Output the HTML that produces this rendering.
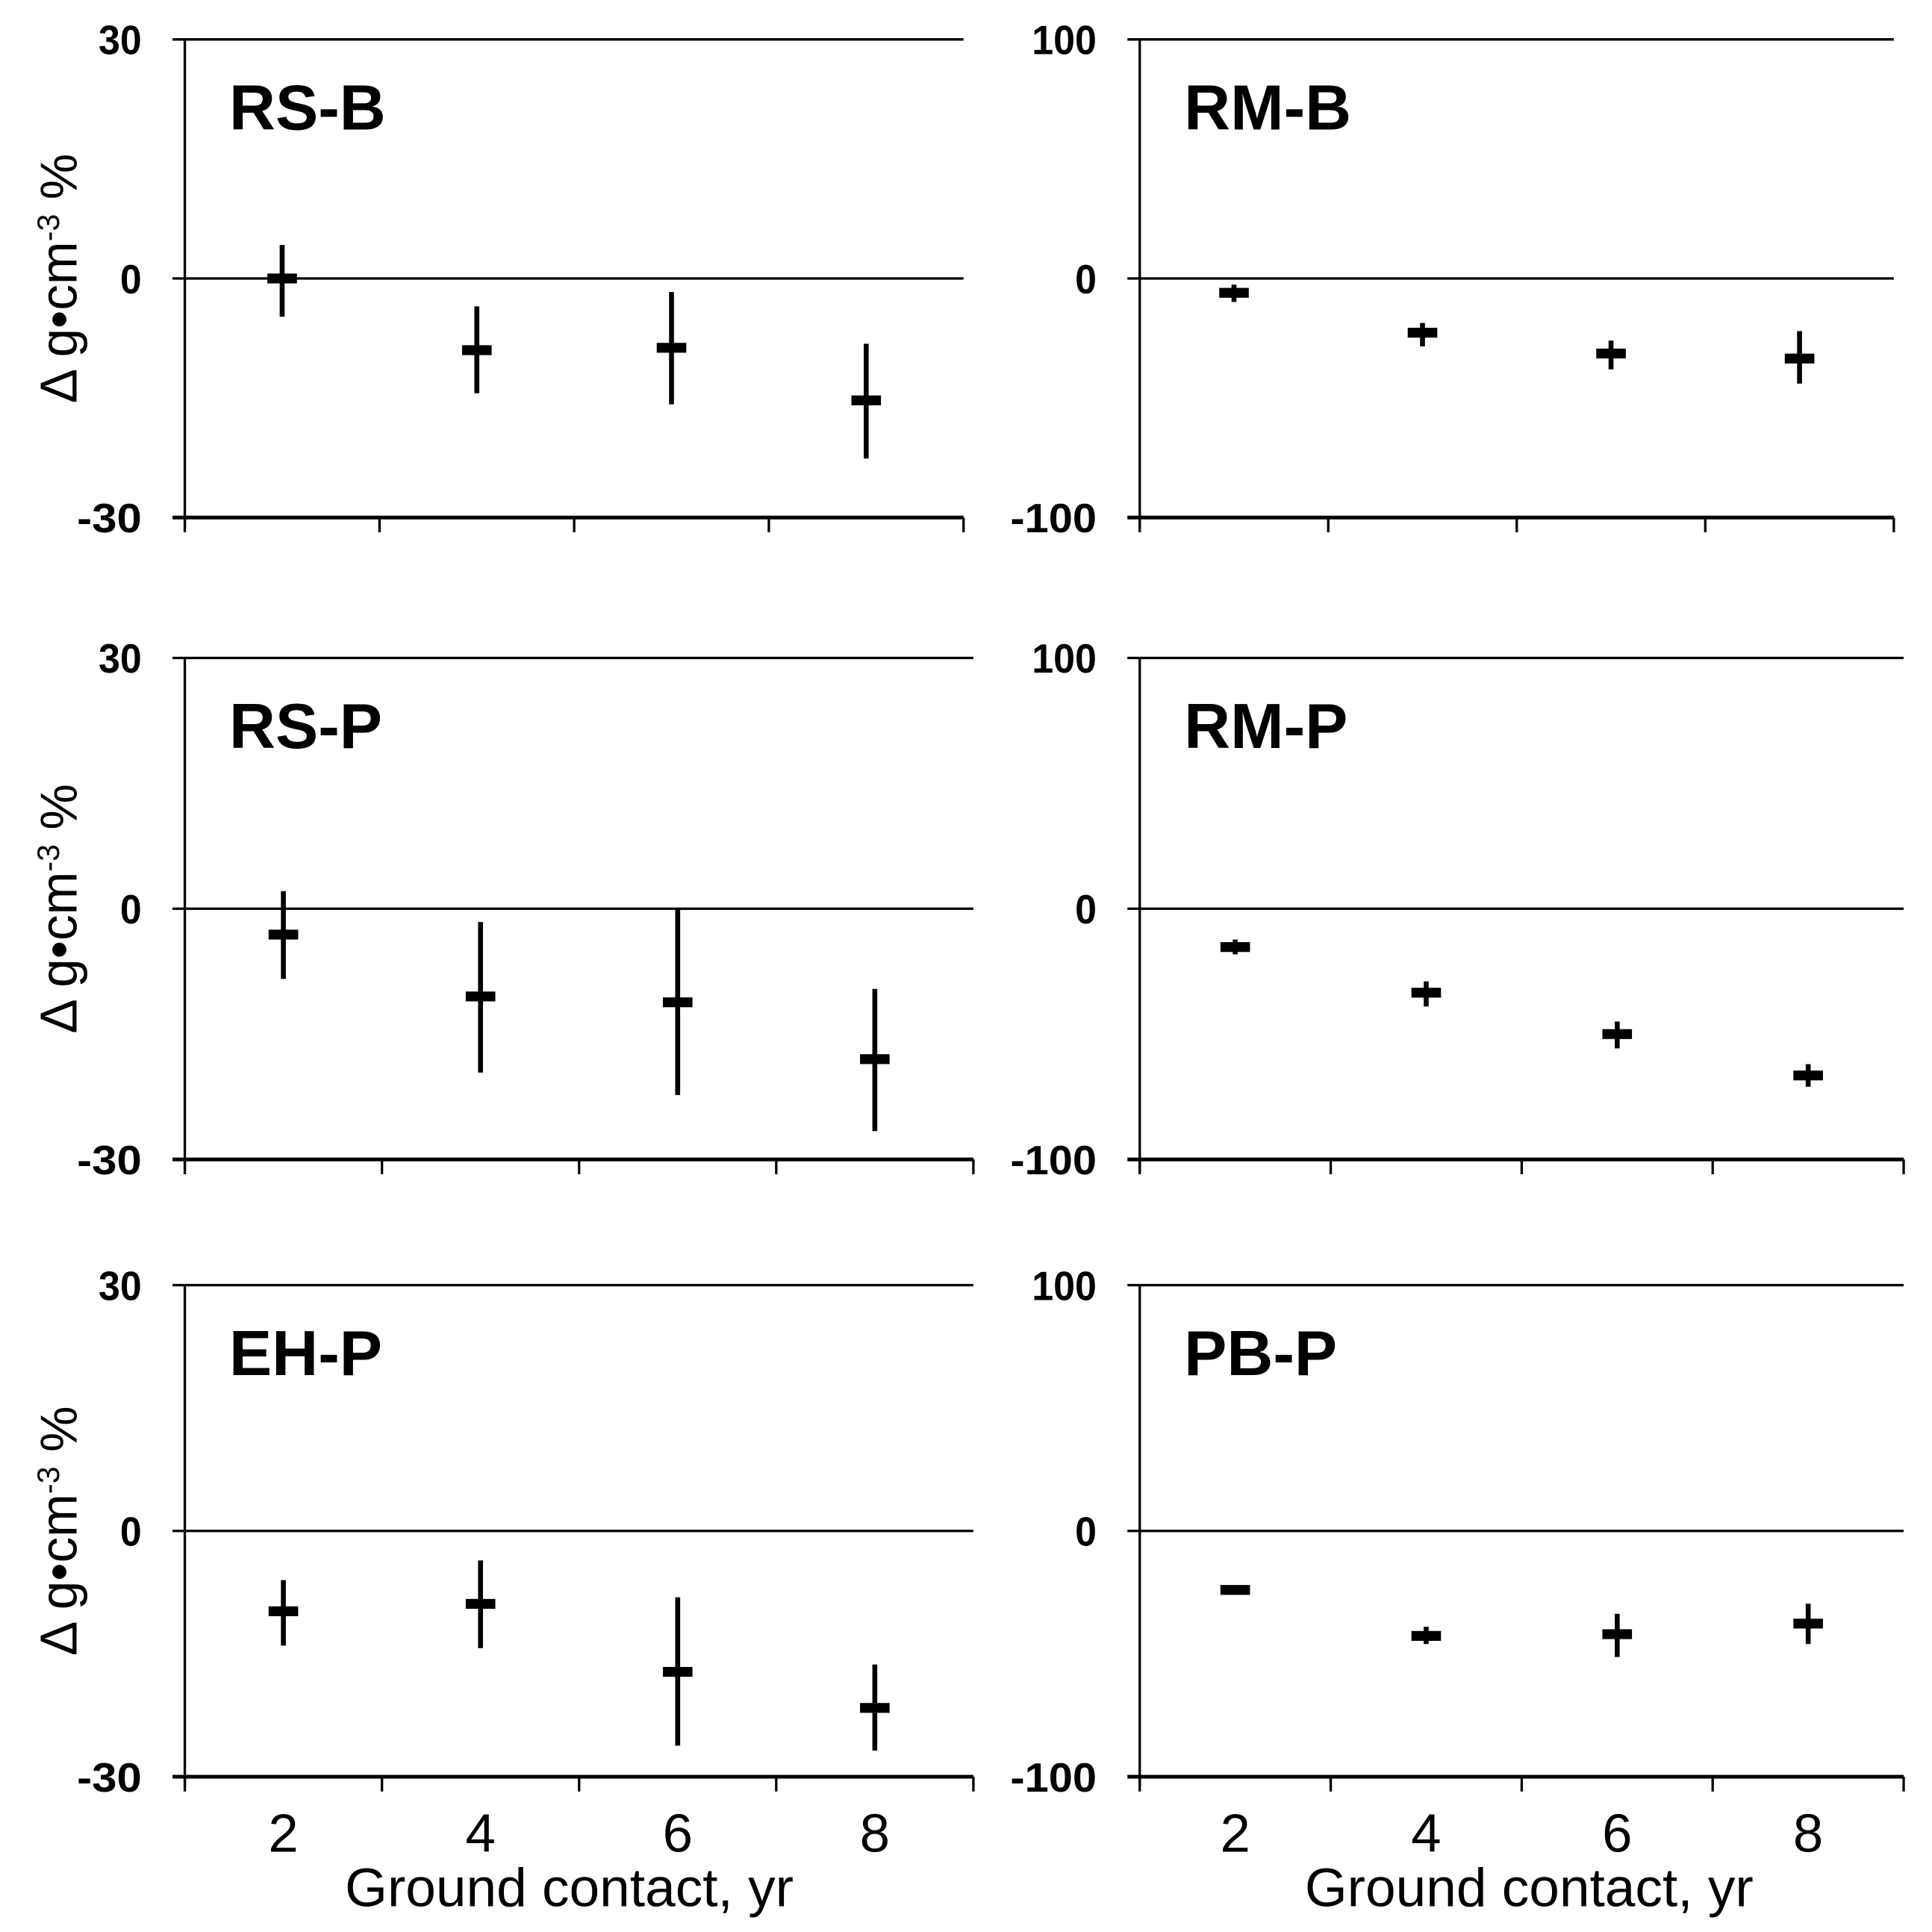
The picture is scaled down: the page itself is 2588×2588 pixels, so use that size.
<!DOCTYPE html>
<html><head><meta charset="utf-8"><style>
html,body{margin:0;padding:0;background:#fff}
svg{display:block}
text{font-family:"Liberation Sans",Arial,sans-serif;fill:#000}
</style></head><body>
<svg id="chart" width="2588" height="2588" viewBox="0 0 1568 1568" xmlns="http://www.w3.org/2000/svg"></svg>
<script>
const categories = [2, 4, 6, 8];
const panelNames = ["RS-B","RM-B","RS-P","RM-P","EH-P","PB-P"];
const meanRSB = [0, -9, -8.7, -15.3];
const hiRSB = [4.2, -3.5, -1.7, -8.2];
const loRSB = [-4.8, -14.4, -15.8, -22.6];
const meanRMB = [-6, -22.7, -31.4, -33.5];
const hiRMB = [-2.6, -18.6, -26, -22];
const loRMB = [-9.8, -28.4, -38, -44];
const meanRSP = [-3.1, -10.5, -11.2, -18];
const hiRSP = [2.1, -1.6, 0, -9.6];
const loRSP = [-8.4, -19.6, -22.3, -26.6];
const meanRMP = [-15.3, -33.5, -50, -66.5];
const hiRMP = [-12.3, -29, -45, -62];
const loRMP = [-18.2, -39, -55.7, -71];
const meanEHP = [-9.8, -8.9, -17.2, -21.6];
const hiEHP = [-6, -3.6, -8.1, -16.3];
const loEHP = [-14, -14.3, -26.2, -26.8];
const meanPBP = [-24, -42.7, -42, -37.7];
const hiPBP = [-22.6, -39, -33.7, -29.6];
const loPBP = [-25.6, -46, -51.3, -46];
const ticksRS = [30, 0, -30];
const ticksRM = [100, 0, -100];

const svg = document.getElementById('chart');
const NS = 'http://www.w3.org/2000/svg';
function mk(tag, attrs, parent){const e=document.createElementNS(NS,tag);for(const k in attrs)e.setAttribute(k,attrs[k]);(parent||svg).appendChild(e);return e;}

const panels = [
 {name:panelNames[0],m:meanRSB,h:hiRSB,l:loRSB,t:ticksRS,x0:150,x1:782,top:32,bot:420,key:'rs-b'},
 {name:panelNames[1],m:meanRMB,h:hiRMB,l:loRMB,t:ticksRM,x0:925,x1:1537,top:32,bot:420,key:'rm-b'},
 {name:panelNames[2],m:meanRSP,h:hiRSP,l:loRSP,t:ticksRS,x0:150,x1:790,top:534,bot:941,key:'rs-p'},
 {name:panelNames[3],m:meanRMP,h:hiRMP,l:loRMP,t:ticksRM,x0:925,x1:1545,top:534,bot:941,key:'rm-p'},
 {name:panelNames[4],m:meanEHP,h:hiEHP,l:loEHP,t:ticksRS,x0:150,x1:790,top:1043,bot:1442,key:'eh-p'},
 {name:panelNames[5],m:meanPBP,h:hiPBP,l:loPBP,t:ticksRM,x0:925,x1:1545,top:1043,bot:1442,key:'pb-p'}
];

panels.forEach((p, pi) => {
  const g = mk('g', {});
  
  
  const vmax = p.t[0], vmin = p.t[p.t.length-1];
  const y = v => p.top + (vmax - v) / (vmax - vmin) * (p.bot - p.top);
  const step = (p.x1 - p.x0) / categories.length;
  const x = i => p.x0 + step * (i + 0.5);
  const ya = mk('line', {x1:p.x0,y1:p.top,x2:p.x0,y2:p.bot+8,stroke:'#000','stroke-width':2}, g);
  
  
  p.t.forEach((tv, ti) => {
    const isBot = ti === p.t.length - 1;
    const gl = mk('line', {x1:p.x0-10,y1:y(tv),x2:p.x1,y2:y(tv),stroke:'#000','stroke-width':isBot?3:2}, g);
    
    
    const s = String(tv);
    const w = s.length * 17.5;
    const tl = mk('text', {x:p.x0-35-w,y:y(tv)+12,'font-size':33,'font-weight':'bold',textLength:w,lengthAdjust:'spacingAndGlyphs'}, g);
    tl.textContent = s;
    
    
  });
  for (let i = 0; i <= categories.length; i++) {
    const tk = mk('line', {x1:p.x0+step*i,y1:p.bot,x2:p.x0+step*i,y2:p.bot+12,stroke:'#000','stroke-width':2}, g);
    
    
  }
  const lb = mk('text', {x:p.x0+36,y:p.top+73,'font-size':52,'font-weight':'bold'}, g);
  lb.textContent = p.name;
  
  
  categories.forEach((c, i) => {
    const eb = mk('line', {x1:x(i),y1:y(p.h[i]),x2:x(i),y2:y(p.l[i]),stroke:'#000','stroke-width':4}, g);
    
    
    const mr = mk('rect', {x:x(i)-12,y:y(p.m[i])-4,width:24,height:8,fill:'#000'}, g);
    
    
  });
  if (pi % 2 === 0) {
    const cy = (p.top + p.bot) / 2;
    const yt = mk('text', {x:0,y:0,'text-anchor':'middle','font-size':42,transform:`translate(62,${cy}) rotate(-90)`}, g);
    yt.innerHTML = '\u0394 g\u2022cm<tspan dy="-14" font-size="25">-3</tspan><tspan dy="14"> %</tspan>';
    
    
  }
  if (pi >= 4) {
    categories.forEach((c, i) => {
      const xl = mk('text', {x:x(i),y:1503,'text-anchor':'middle','font-size':44}, g);
      xl.textContent = c;
      
      
    });
    const cx = pi === 4 ? 462 : 1241;
    const xt = mk('text', {x:cx-182,y:1547,'font-size':44,textLength:364,lengthAdjust:'spacingAndGlyphs'}, g);
    xt.textContent = 'Ground contact, yr';
    
    
  }
});
</script>
</body></html>
